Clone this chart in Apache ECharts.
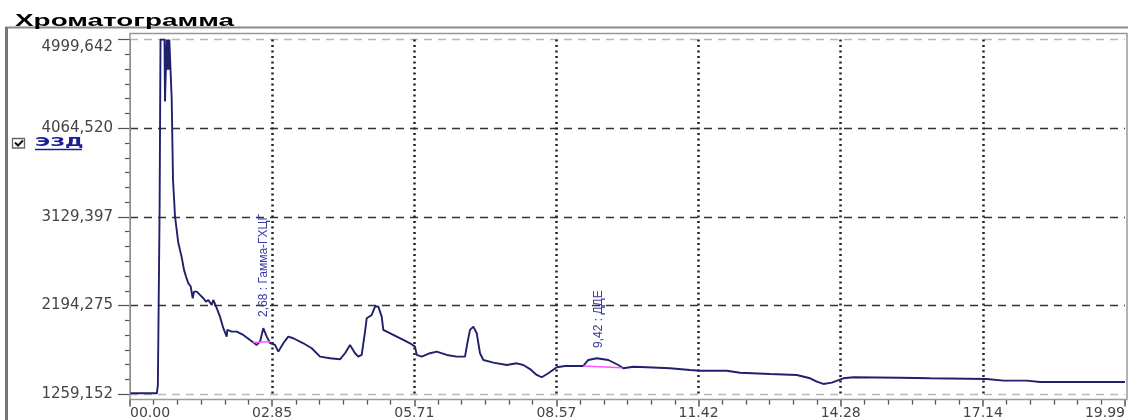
<!DOCTYPE html>
<html>
<head>
<meta charset="utf-8">
<script src="https://cdn.jsdelivr.net/npm/echarts@6/dist/echarts.min.js"></script>
<style>
html,body{margin:0;padding:0;background:#fff;}
#chart{width:1128px;height:420px;}
</style>
</head>
<body>
<div id="chart"></div>
<script>
// ---- data ----
const titleText = 'Хроматограмма';
const channelName = 'ЭЗД';
const xTickLabels = ['00.00', '02.85', '05.71', '08.57', '11.42', '14.28', '17.14', '19.99'];
const yTickLabels = ['1259,152', '2194,275', '3129,397', '4064,520', '4999,642'];
const yMin = 1259.152, yMax = 4999.642;
const xEnd = 19.99;
// [retention time (min), detector signal]
const trace = [
 [0.01,1270],[0.54,1270],[0.56,1357],[0.59,1357],[0.595,3225],[0.61,3225],[0.613,4999.6],[0.693,4999.6],
 [0.703,4347],[0.727,4347],[0.737,4999.6],[0.753,4682],[0.763,4999.6],[0.78,4682],[0.79,4999.6],[0.83,4999.6],
 [0.838,4365],[0.858,4365],[0.864,3521],[0.884,3521],[0.89,3278],[0.904,3134],[0.938,2993],[0.97,2856],
 [1.04,2700],[1.085,2571],[1.125,2500],[1.171,2431],[1.22,2395],[1.26,2272],[1.286,2342],[1.34,2342],
 [1.406,2307],[1.473,2272],[1.527,2236],[1.573,2254],[1.642,2202],[1.674,2254],[1.742,2167],[1.808,2078],
 [1.84,2070],[1.875,1956],[1.943,1867],[1.955,1938],[2.043,1920],[2.144,1920],[2.276,1885],[2.411,1832],
 [2.546,1780],[2.612,1814],[2.678,1956],[2.747,1867],[2.813,1800],[2.913,1780],[2.98,1709],[3.014,1692],
 [3.08,1797],[3.179,1867],[3.28,1850],[3.482,1797],[3.651,1745],[3.818,1656],[4.019,1639],[4.219,1628],
 [4.32,1692],[4.42,1780],[4.521,1692],[4.587,1656],[4.655,1674],[4.722,1920],[4.756,2061],[4.856,2096],
 [4.923,2184],[4.989,2184],[5.057,2078],[5.089,1938],[5.29,1885],[5.491,1832],[5.626,1797],[5.726,1762],
 [5.761,1674],[5.861,1656],[6.028,1692],[6.162,1709],[6.363,1674],[6.564,1656],[6.731,1656],[6.777,1797],
 [6.831,1938],[6.898,1973],[6.966,1903],[7.032,1692],[7.099,1621],[7.3,1593],[7.569,1568],[7.77,1586],
 [7.902,1568],[8.037,1525],[8.171,1463],[8.272,1439],[8.404,1481],[8.573,1544],[8.74,1558],[9.108,1558],
 [9.208,1621],[9.377,1639],[9.61,1621],[9.811,1568],[9.912,1534],[10.113,1550],[10.382,1544],[10.85,1534],
 [11.252,1516],[11.453,1508],[11.989,1508],[12.256,1487],[12.859,1473],[13.396,1463],[13.663,1428],[13.798,1392],
 [13.93,1368],[14.099,1382],[14.332,1428],[14.533,1439],[15.471,1434],[16.074,1428],[17.213,1421],[17.546,1403],
 [18.017,1403],[18.284,1389],[19.99,1389]
];
const peakNames = ['2,68 : Гамма-ГХЦГ', '9,42 : ДДЕ'];
const peakTimes = [2.68, 9.42];
const peakLabelBase = [2075, 1748];
// integration baselines [[t1,v1],[t2,v2]]
const peakBaselines = [
 [[2.471,1804],[2.813,1814]],
 [[9.108,1558],[9.88,1540]]
];

// ---- chart ----
const yStep = (yMax - yMin) / 4;
const xStep = xEnd / 7;
const chart = echarts.init(document.getElementById('chart'), null, {renderer: 'canvas'});
const navy = '#20206c';
const labelBlue = '#3a3aa0';
const axisGray = '#555';

const option = {
  animation: false,
  backgroundColor: '#fff',
  grid: {left: 130, right: 3, top: 39.5, bottom: 25.7, containLabel: false, outerBoundsMode: 'none'},
  xAxis: {
    type: 'value', min: 0, max: xStep * 7, interval: xStep, offset: 5.3,
    axisLine: {show: true, lineStyle: {color: axisGray, width: 1}},
    axisTick: {show: true, length: 7, lineStyle: {color: axisGray, width: 1.5}},
    minorTick: {show: true, splitNumber: 6, length: 5, lineStyle: {color: axisGray, width: 1.3}},
    axisLabel: {
      show: true, margin: 7, color: '#444', fontFamily: 'DejaVu Sans', fontSize: 14,
      showMinLabel: true, showMaxLabel: true, alignMinLabel: 'left', alignMaxLabel: 'right',
      formatter: v => xTickLabels[Math.round(v / xStep)]
    },
    splitLine: {show: true, showMinLine: false, showMaxLine: false,
      lineStyle: {color: '#222', width: 2.5, type: [2, 3.5]}}
  },
  yAxis: {
    type: 'value', min: yMin, max: yMax, interval: yStep,
    axisLine: {show: true, lineStyle: {color: axisGray, width: 1}},
    axisTick: {show: true, length: 12, lineStyle: {color: axisGray, width: 1.2}},
    minorTick: {show: true, splitNumber: 6, length: 5, lineStyle: {color: axisGray, width: 1.2}},
    axisLabel: {
      show: true, margin: 17, color: '#444', fontFamily: 'DejaVu Sans', fontSize: 15,
      showMinLabel: true, showMaxLabel: true, verticalAlignMaxLabel: 'top',
      formatter: v => yTickLabels[Math.round((v - yMin) / yStep)]
    },
    splitLine: {show: true,
      lineStyle: {color: ['#b8b8b8', '#333', '#333', '#333', '#b8b8b8'], width: 1.3, type: [8, 6]}}
  },
  series: [
    {
      type: 'line', data: trace, showSymbol: false, symbol: 'none', clip: true,
      lineStyle: {color: navy, width: 1.9}, z: 3,
      markPoint: {
        symbol: 'circle', symbolSize: 0, silent: true,
        label: {
          show: true, position: 'inside', rotate: 90, align: 'left', verticalAlign: 'middle',
          color: labelBlue, fontFamily: '"Liberation Sans Narrow", "Liberation Sans", sans-serif', fontSize: 12,
          formatter: p => p.name
        },
        data: peakNames.map((n, i) => ({name: n, coord: [peakTimes[i], peakLabelBase[i]]}))
      }
    },
    {
      type: 'line', data: [], z: 2,
      markLine: {
        silent: true, symbol: 'none', label: {show: false},
        lineStyle: {color: '#ff55ff', width: 1.5, type: 'solid'},
        data: peakBaselines.map(b => [{coord: b[0]}, {coord: b[1]}])
      }
    }
  ],
  graphic: [
    {type: 'text', x: 15, y: 12.5, scaleX: 1.64, z: 10,
     style: {text: titleText, font: 'bold 17px "Liberation Sans"', fill: '#000', textVerticalAlign: 'top'}},
    {type: 'line', z: 9, shape: {x1: 5, y1: 27.5, x2: 1128, y2: 27.5}, style: {stroke: '#888', lineWidth: 2}},
    {type: 'line', z: 9, shape: {x1: 6.5, y1: 27, x2: 6.5, y2: 420}, style: {stroke: '#777', lineWidth: 3}},
    {type: 'rect', z: 1, shape: {x: 130, y: 33.5, width: 997, height: 366}, style: {fill: 'none', stroke: '#999', lineWidth: 1.5}},
    {type: 'rect', z: 9, shape: {x: 12.5, y: 138.5, width: 12, height: 9.5}, style: {fill: '#fff', stroke: '#666', lineWidth: 1.3}},
    {type: 'polyline', z: 10, shape: {points: [[15, 142.5], [18, 145.5], [23, 140.5]]}, style: {fill: 'none', stroke: '#111', lineWidth: 2}},
    {type: 'text', x: 35, y: 136.5, scaleX: 1.6, z: 10,
     style: {text: channelName, font: 'bold 13px "DejaVu Sans"', fill: '#1c1c9c', textVerticalAlign: 'top'}},
    {type: 'line', z: 10, shape: {x1: 35, y1: 149.5, x2: 82, y2: 149.5}, style: {stroke: '#1c1c9c', lineWidth: 1.3}}
  ]
};
chart.setOption(option);
</script>
</body>
</html>
